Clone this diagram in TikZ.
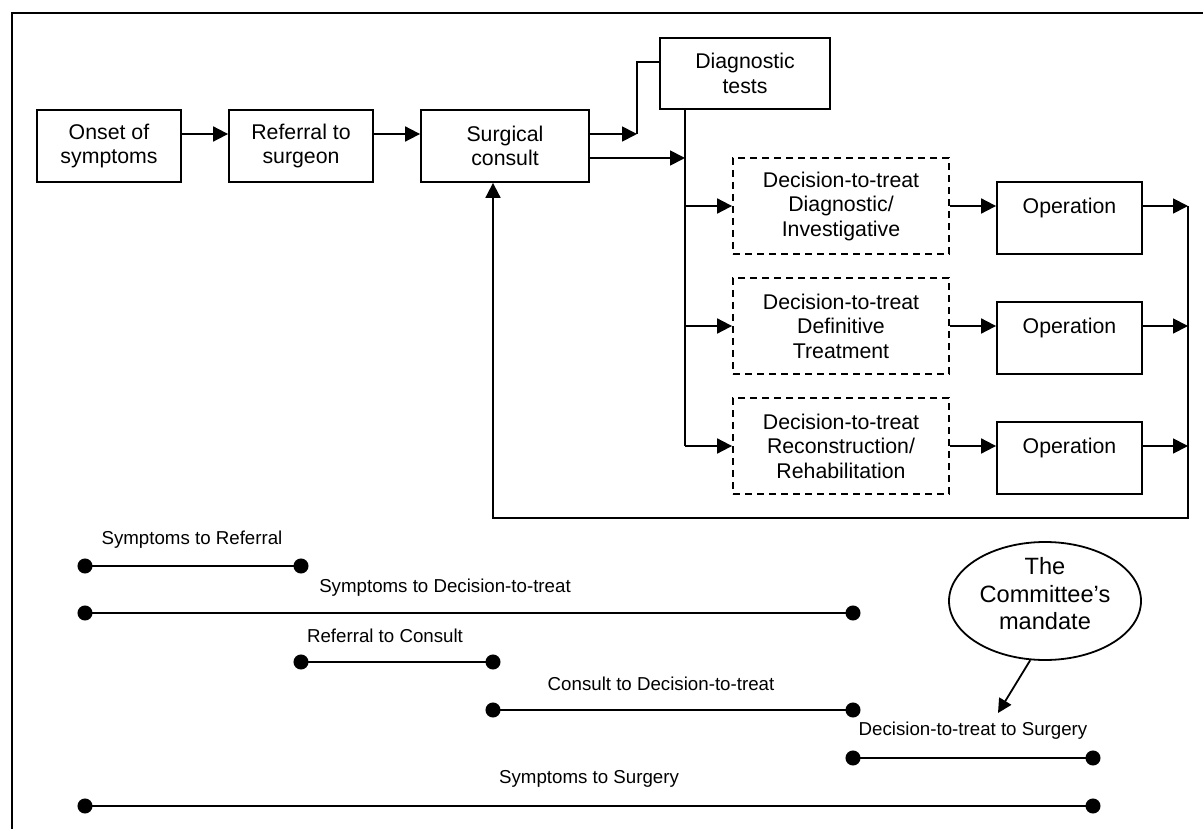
\documentclass[tikz,border=0pt]{standalone}
\usepackage{fontspec}
\setmainfont{Liberation Sans}
\usetikzlibrary{arrows.meta,shapes.geometric}
\tikzset{
  box/.style={draw, line width=1.8pt, align=center, inner sep=0pt, font=\fontsize{21.3}{24.5}\selectfont},
  dbox/.style={box, dash pattern=on 7pt off 5pt},
  conn/.style={line width=1.8pt},
  arr/.style={conn, -{Triangle[length=15pt,width=15pt]}},
  seg/.style={line width=2pt, {Circle[length=15pt]}-{Circle[length=15pt]}, shorten <=-7.5pt, shorten >=-7.5pt},
  tlabel/.style={inner sep=0pt, font=\fontsize{18.7}{21.5}\selectfont},
}
\begin{document}
\begin{tikzpicture}[x=1pt,y=-1pt]
\useasboundingbox (0,0) rectangle (1203,829);
% frame
\coordinate (ftr) at (1203,13);
\coordinate (ftl) at (12,13);
\coordinate (fbl) at (12,829);
\draw[line width=2pt] (ftr) -- (ftl) -- (fbl);

% flow boxes
\node[box, minimum width=144pt, minimum height=72pt] (onset) at (109,146) {Onset of\\symptoms};
\node[box, minimum width=144pt, minimum height=72pt] (referral) at (301,146) {Referral to\\surgeon};
\node[box, minimum width=168pt, minimum height=72pt] (surgical) at (505,146) {Surgical\\consult};
\node[box, minimum width=170pt, minimum height=71pt] (diag) at (745,73.5) {Diagnostic\\tests};

\node[dbox, minimum width=216pt, minimum height=96pt] (d1) at (841,206) {Decision-to-treat\\Diagnostic/\\Investigative};
\node[dbox, minimum width=216pt, minimum height=96pt] (d2) at (841,326) {Decision-to-treat\\Definitive\\Treatment};
\node[dbox, minimum width=216pt, minimum height=96pt] (d3) at (841,446) {Decision-to-treat\\Reconstruction/\\Rehabilitation};

\node[box, minimum width=145pt, minimum height=72pt] (o1) at (1069.5,218) {Operation\\~};
\node[box, minimum width=145pt, minimum height=72pt] (o2) at (1069.5,338) {Operation\\~};
\node[box, minimum width=145pt, minimum height=72pt] (o3) at (1069.5,458) {Operation\\~};

% helper coordinates
\coordinate (r1) at (0,134);
\coordinate (r2) at (0,158);
\coordinate (j1) at (637,134);
\coordinate (dj) at (0,62);
\coordinate (bustop) at (685,109);
\coordinate (rb) at (1188,518);
\coordinate (lb) at (493,518);

% connectors
\draw[arr] (onset.east |- r1) -- (referral.west |- r1);
\draw[arr] (referral.east |- r1) -- (surgical.west |- r1);
\draw[arr] (surgical.east |- r1) -- (j1);
\draw[conn] (j1) -- (j1 |- dj) -- (diag.west |- dj);
\draw[arr] (surgical.east |- r2) -- (bustop |- r2);
\draw[conn] (bustop) -- (bustop |- d3.west);
\draw[arr] (bustop |- d1.west) -- (d1.west);
\draw[arr] (bustop |- d2.west) -- (d2.west);
\draw[arr] (bustop |- d3.west) -- (d3.west);
\draw[arr] (d1.east) -- (o1.west |- d1.east);
\draw[arr] (d2.east) -- (o2.west |- d2.east);
\draw[arr] (d3.east) -- (o3.west |- d3.east);
\draw[arr] (o1.east |- d1.east) -- (rb |- d1.east);
\draw[arr] (o2.east |- d2.east) -- (rb |- d2.east);
\draw[arr] (o3.east |- d3.east) -- (rb |- d3.east);
\draw[arr] (rb |- d1.east) -- (rb) -- (lb) -- (lb |- surgical.south);

% timeline points
\coordinate (a1) at (85,566);  \coordinate (b1) at (301,566);
\coordinate (a2) at (85,613);  \coordinate (b2) at (853,613);
\coordinate (a3) at (301,662); \coordinate (b3) at (493,662);
\coordinate (a4) at (493,710); \coordinate (b4) at (853,710);
\coordinate (a5) at (853,758); \coordinate (b5) at (1093,758);
\coordinate (a6) at (85,806);  \coordinate (b6) at (1093,806);
\draw[seg] (a1) -- (b1);
\draw[seg] (a2) -- (b2);
\draw[seg] (a3) -- (b3);
\draw[seg] (a4) -- (b4);
\draw[seg] (a5) -- (b5);
\draw[seg] (a6) -- (b6);

\node[tlabel] (l1) at (192,540) {Symptoms to Referral};
\node[tlabel] (l2) at (445,588) {Symptoms to Decision-to-treat};
\node[tlabel] (l3) at (385,636) {Referral to Consult};
\node[tlabel] (l4) at (661,684) {Consult to Decision-to-treat};
\node[tlabel] (l5) at (973,731) {Decision-to-treat to Surgery};
\node[tlabel] (l6) at (589,779) {Symptoms to Surgery};

% mandate
\node[ellipse, draw, line width=1.8pt, inner sep=0pt, minimum width=192pt, minimum height=118pt,
      font=\fontsize{23.6}{27.5}\selectfont] (mandate) at (1045,601)
      {\raisebox{-2pt}[0pt][0pt]{\begin{tabular}{@{}c@{}}The\\Committee’s\\mandate\end{tabular}}};
\coordinate (mtip) at (998,713);
\draw[line width=1.8pt, -{Triangle[length=14pt,width=14pt]}] (mandate.256) -- (mtip);
\end{tikzpicture}
\end{document}
